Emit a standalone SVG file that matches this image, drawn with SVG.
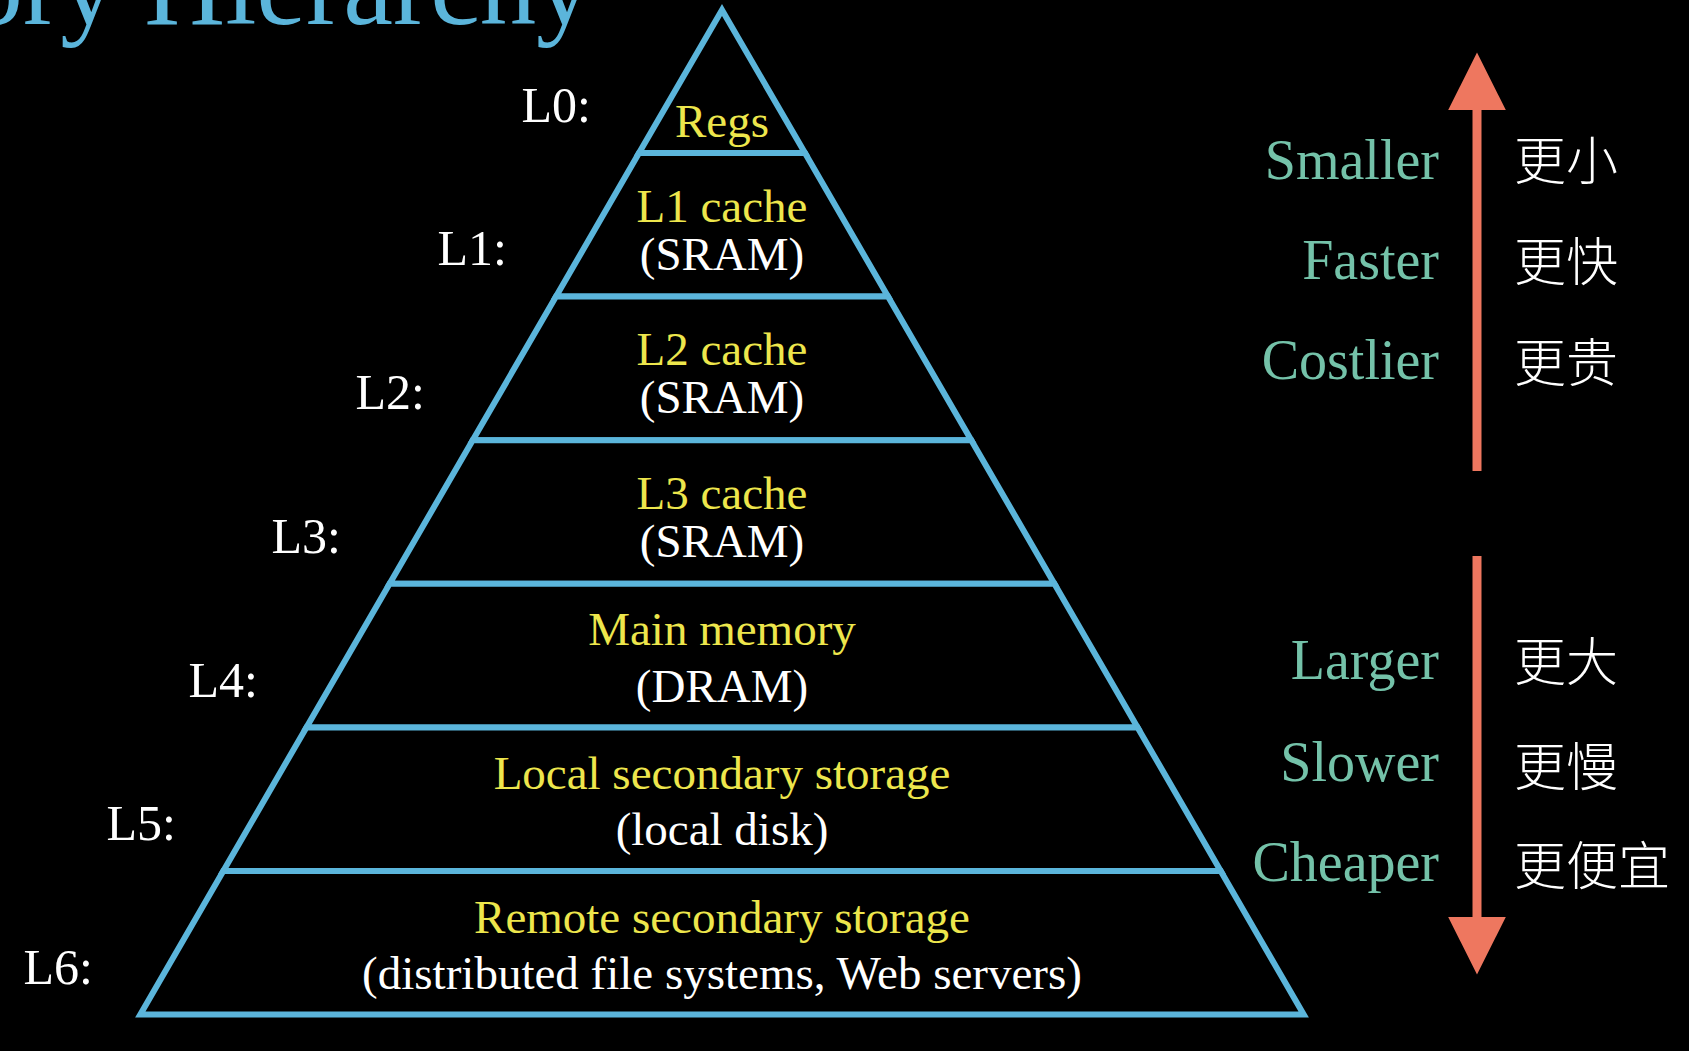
<svg xmlns="http://www.w3.org/2000/svg" width="1689" height="1051" viewBox="0 0 1689 1051">
  <style>
    .lvl { fill: #000000; stroke: #5bb5db; stroke-width: 6; stroke-linejoin: miter; }
    .t { font-family: "Liberation Serif", "Times New Roman", serif; text-anchor: middle; font-size: 47px; }
    .y { fill: #ede64c; }
    .w { fill: #ffffff; }
    .lab { font-family: "Liberation Serif", "Times New Roman", serif; font-size: 50px; fill: #ffffff; text-anchor: end; }
    .en { font-family: "Liberation Serif", "Times New Roman", serif; font-size: 56px; fill: #74c2a9; text-anchor: end; }
    .zh { font-family: "Noto Sans CJK SC", "Noto Sans CJK TC", sans-serif; font-size: 52px; fill: #ffffff; font-weight: 300; }
    .title { font-family: "Liberation Serif", "Times New Roman", serif; font-size: 112px; fill: #5bb5db; text-anchor: end; }
  </style>
  <defs>
    <marker id="head" viewBox="0 0 10 10" refX="0" refY="5" markerWidth="6.4" markerHeight="6.4" markerUnits="strokeWidth" orient="auto">
      <path d="M0,0 L10,5 L0,10 z" fill="#ee775f"/>
    </marker>
  </defs>
  <rect x="0" y="0" width="1689" height="1051" fill="#000000"/>

  <text class="title" x="592" y="24">Memory Hierarchy</text>

  <g id="L0">
    <polygon class="lvl" points="722,10 805,153 639,153"/>
    <text class="t y" x="722" y="137">Regs</text>
    <text class="lab" x="591" y="122">L0:</text>
  </g>
  <g id="L1">
    <polygon class="lvl" points="639,153 805,153 888,296.6 556,296.6"/>
    <text class="t y" x="722" y="222">L1 cache</text>
    <text class="t w" x="722" y="270">(SRAM)</text>
    <text class="lab" x="507" y="265">L1:</text>
  </g>
  <g id="L2">
    <polygon class="lvl" points="556,296.6 888,296.6 971.3,440.2 472.7,440.2"/>
    <text class="t y" x="722" y="365">L2 cache</text>
    <text class="t w" x="722" y="413">(SRAM)</text>
    <text class="lab" x="425" y="409">L2:</text>
  </g>
  <g id="L3">
    <polygon class="lvl" points="472.7,440.2 971.3,440.2 1054.4,583.8 389.6,583.8"/>
    <text class="t y" x="722" y="509">L3 cache</text>
    <text class="t w" x="722" y="557">(SRAM)</text>
    <text class="lab" x="341" y="553">L3:</text>
  </g>
  <g id="L4">
    <polygon class="lvl" points="389.6,583.8 1054.4,583.8 1137.6,727.4 306.4,727.4"/>
    <text class="t y" x="722" y="645">Main memory</text>
    <text class="t w" x="722" y="702">(DRAM)</text>
    <text class="lab" x="258" y="697">L4:</text>
  </g>
  <g id="L5">
    <polygon class="lvl" points="306.4,727.4 1137.6,727.4 1220.7,871 223.3,871"/>
    <text class="t y" x="722" y="789">Local secondary storage</text>
    <text class="t w" x="722" y="845">(local disk)</text>
    <text class="lab" x="176" y="840">L5:</text>
  </g>
  <g id="L6">
    <polygon class="lvl" points="223.3,871 1220.7,871 1303.7,1014.6 140.3,1014.6"/>
    <text class="t y" x="722" y="933">Remote secondary storage</text>
    <text class="t w" x="722" y="989">(distributed file systems, Web servers)</text>
    <text class="lab" x="93" y="984">L6:</text>
  </g>

  <g id="connectors">
    <line x1="1477" y1="471" x2="1477" y2="110" stroke="#ee775f" stroke-width="9" marker-end="url(#head)"/>
    <line x1="1477" y1="556" x2="1477" y2="917" stroke="#ee775f" stroke-width="9" marker-end="url(#head)"/>
  </g>

  <g id="up-labels">
    <text class="en" x="1439" y="179">Smaller</text>
    <text class="en" x="1439" y="279">Faster</text>
    <text class="en" x="1439" y="379">Costlier</text>
    <text class="zh" x="1514" y="180">更小</text>
    <text class="zh" x="1514" y="281">更快</text>
    <text class="zh" x="1514" y="382">更贵</text>
  </g>
  <g id="down-labels">
    <text class="en" x="1439" y="679">Larger</text>
    <text class="en" x="1439" y="781">Slower</text>
    <text class="en" x="1439" y="881">Cheaper</text>
    <text class="zh" x="1514" y="681">更大</text>
    <text class="zh" x="1514" y="786">更慢</text>
    <text class="zh" x="1514" y="885">更便宜</text>
  </g>
</svg>
